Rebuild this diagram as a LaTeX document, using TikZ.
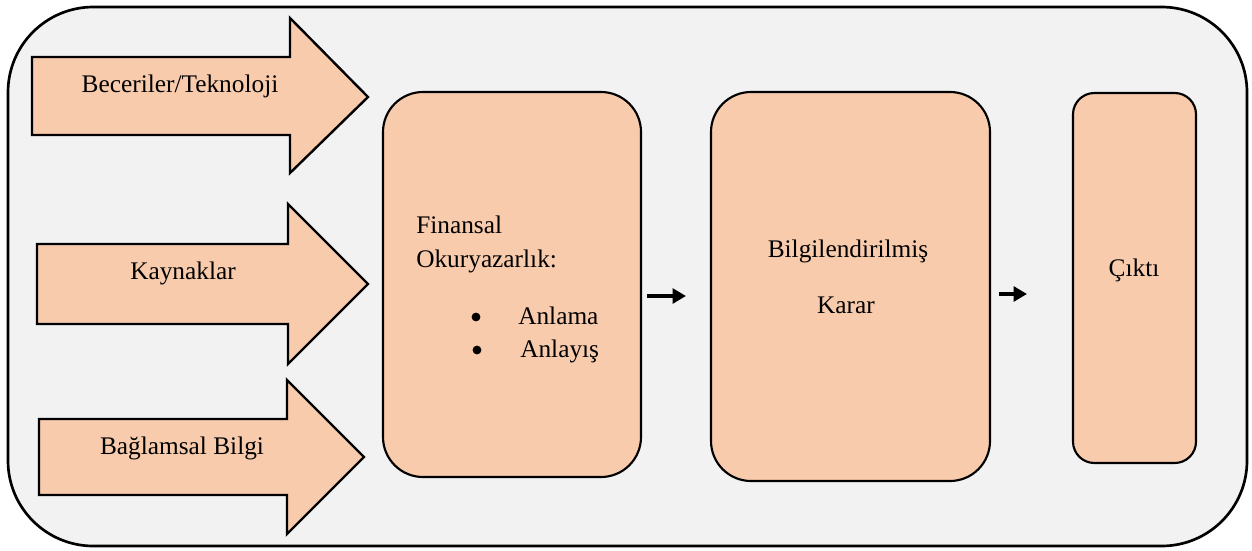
\documentclass[tikz,border=0pt]{standalone}
\usepackage{fontspec}
\setmainfont{Liberation Serif}
\usetikzlibrary{arrows.meta}
\definecolor{peach}{HTML}{F8CBAD}
\definecolor{bg}{HTML}{F2F2F2}
\begin{document}
\begin{tikzpicture}[x=0.75pt,y=-0.75pt,
  blockarrow/.style={draw=black,line width=1.8pt,fill=peach,line join=miter},
  box/.style={draw=black,line width=1.6pt,fill=peach},
  lbl/.style={font=\fontsize{19}{23}\selectfont,inner sep=0pt},
  link/.style={line width=2.6pt,-{Triangle[length=10pt,width=11pt]}}]
\useasboundingbox (0,0) rectangle (1252,550);
% outer frame
\draw[line width=2pt,fill=bg,rounded corners=64pt] (8,7) rectangle (1247,546);
% block arrows
\draw[blockarrow] (32,57) -- (290,57) -- (290,18) -- (368,97) -- (290,173) -- (290,135) -- (32,135) -- cycle;
\node[lbl] (a1) at (180,86) {Beceriler/Teknoloji};
\draw[blockarrow] (37,244) -- (288,244) -- (288,204) -- (368,284) -- (288,364) -- (288,324) -- (37,324) -- cycle;
\node[lbl] (a2) at (183,273) {Kaynaklar};
\draw[blockarrow] (39,419) -- (287,419) -- (287,380) -- (364,457) -- (287,534) -- (287,495) -- (39,495) -- cycle;
\node[lbl] (a3) at (182,448) {Bağlamsal Bilgi};
% boxes
\draw[box,rounded corners=30pt] (383,92) rectangle (641,477);
\coordinate (b1) at (512,284);
\draw[box,rounded corners=30pt] (711,92) rectangle (990,481);
\coordinate (b2) at (850,286);
\draw[box,rounded corners=16pt] (1073,93) rectangle (1196,463);
\coordinate (b3) at (1134,278);
% texts in boxes
\node[lbl,anchor=base west] (t1) at (416,233) {Finansal};
\node[lbl,anchor=base west] (t2) at (416,267) {Okuryazarlık:};
\fill (476,317) circle (3.3pt);
\fill (477,350) circle (3.3pt);
\node[lbl,anchor=base west] (t3) at (518,324) {Anlama};
\node[lbl,anchor=base west] (t4) at (520,357) {Anlayış};
\node[lbl] (t5) at (848,251) {Bilgilendirilmiş};
\node[lbl] (t6) at (846,305) {Karar};
\node[lbl] (t7) at (1134,270) {Çıktı};
% small connectors
\coordinate (s1) at (647,296);
\coordinate (e1) at (686,296);
\coordinate (s2) at (999,294);
\coordinate (e2) at (1027,294);
\draw[link] (s1) -- (e1);
\draw[link] (s2) -- (e2);
\end{tikzpicture}
\end{document}
